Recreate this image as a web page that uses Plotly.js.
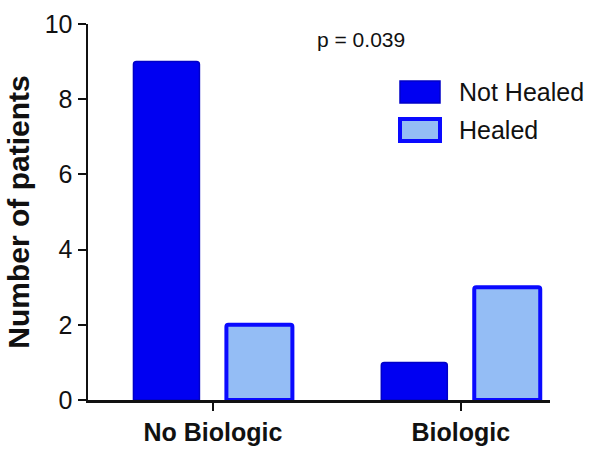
<!DOCTYPE html>
<html>
<head>
<meta charset="utf-8">
<script src="https://cdn.plot.ly/plotly-3.0.1.min.js"></script>
<style>
  html, body { margin: 0; padding: 0; background: #fff; }
  #chart { width: 601px; height: 459px; }
</style>
</head>
<body>
<div id="chart"></div>
<script>
const groups = ['No Biologic', 'Biologic'];
const notHealed = [9, 1];
const healed = [2, 3];
const seriesNames = ['Not Healed', 'Healed'];
const pLabel = 'p = 0.039';
const yTicks = [0, 2, 4, 6, 8, 10];

const FONT = 'Liberation Sans, Arial, sans-serif';
const DARK = '#0000f2';
const DARK_EDGE = '#0000c8';
const LIGHT = '#94bdf5';
const LIGHT_EDGE = '#0a0aff';

const traces = [
  {
    type: 'bar', x: groups, y: notHealed, name: seriesNames[0],
    marker: { color: DARK, line: { color: DARK_EDGE, width: 1.5 }, cornerradius: 3 },
    showlegend: false,
  },
  {
    type: 'bar', x: groups, y: healed, name: seriesNames[1],
    marker: { color: LIGHT, line: { color: LIGHT_EDGE, width: 4 }, cornerradius: 2 },
    showlegend: false,
  },
];

// legend drawn by hand so the swatches can be large
const legendRows = [
  { name: seriesNames[0], fill: DARK, edge: DARK_EDGE, w: 1.5, y: 92 },
  { name: seriesNames[1], fill: LIGHT, edge: LIGHT_EDGE, w: 4, y: 130 },
];
const shapes = legendRows.map(r => ({
  type: 'rect', xref: 'paper', yref: 'paper',
  x0: (400 - 88) / 462, x1: (440 - 88) / 462,
  y0: (400 - r.y - 11) / 376, y1: (400 - r.y + 11) / 376,
  fillcolor: r.fill, line: { color: r.edge, width: r.w },
}));
const annotations = legendRows.map(r => ({
  xref: 'paper', yref: 'paper', x: (457 - 88) / 462, y: (400 - r.y) / 376,
  xanchor: 'left', yanchor: 'middle', showarrow: false, text: r.name,
  font: { family: FONT, size: 25, color: '#111' },
}));
annotations.push({
  xref: 'paper', yref: 'paper', x: (361 - 88) / 462, y: (400 - 40) / 376,
  xanchor: 'center', yanchor: 'middle', showarrow: false, text: pLabel,
  font: { family: FONT, size: 21, color: '#111' },
});

const layout = {
  width: 601, height: 459,
  margin: { t: 24, b: 59, l: 88, r: 51 },
  paper_bgcolor: '#fff', plot_bgcolor: '#fff',
  barmode: 'group', bargap: 0.25, bargroupgap: 0.29,
  font: { family: FONT, color: '#111' },
  xaxis: {
    range: [-0.504, 1.36], showgrid: false, zeroline: false,
    showline: true, linecolor: '#111', linewidth: 2.5,
    ticks: 'outside', ticklen: 8, tickwidth: 2, tickcolor: '#111',
    tickfont: { family: FONT, size: 25, color: '#111', weight: 'bold' },
  },
  yaxis: {
    range: [0, 10], tickvals: yTicks, showgrid: false, zeroline: false,
    showline: true, linecolor: '#111', linewidth: 2.5,
    ticks: 'outside', ticklen: 8, tickwidth: 2, tickcolor: '#111',
    tickfont: { family: FONT, size: 25, color: '#111' },
    title: { text: 'Number of patients', standoff: 6, font: { family: FONT, size: 30, color: '#111', weight: 'bold' } },
  },
  shapes,
  annotations,
};

Plotly.newPlot('chart', traces, layout, { displayModeBar: false, staticPlot: true });
</script>
</body>
</html>
